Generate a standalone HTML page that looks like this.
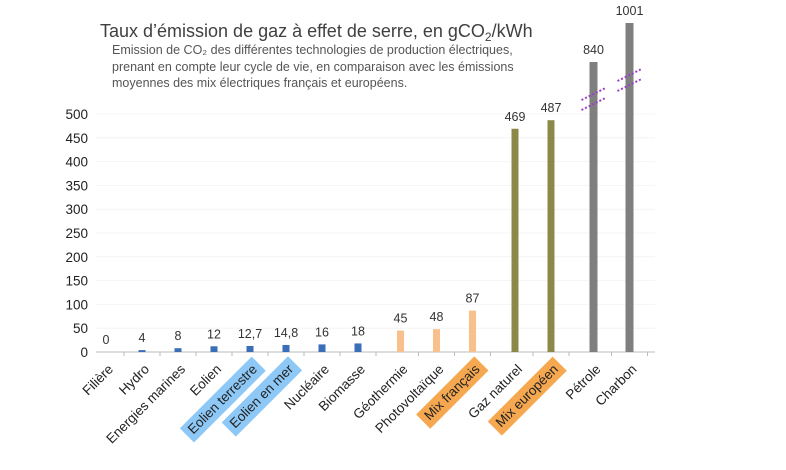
<!DOCTYPE html>
<html><head><meta charset="utf-8"><style>
body{margin:0;background:#fff;width:786px;height:465px;overflow:hidden}
svg{font-family:"Liberation Sans",sans-serif}
</style></head><body>
<svg id="c" width="786" height="465">
<text x="100" y="37" font-size="18" fill="#404040">Taux d’émission de gaz à effet de serre, en gCO<tspan font-size="12" dy="4">2</tspan><tspan dy="-4">/kWh</tspan></text>
<g font-size="12.5" fill="#555">
<text x="112" y="54">Emission de CO₂ des différentes technologies de production électriques,</text>
<text x="112" y="71">prenant en compte leur cycle de vie, en comparaison avec les émissions</text>
<text x="112" y="87">moyennes des mix électriques français et européens.</text>
</g>
</svg>
<script>
const categories=["Filière","Hydro","Energies marines","Eolien","Eolien terrestre","Eolien en mer","Nucléaire","Biomasse","Géothermie","Photovoltaïque","Mix français","Gaz naturel","Mix européen","Pétrole","Charbon"];
const values=[0,4,8,12,12.7,14.8,16,18,45,48,87,469,487,840,1001];
const valueLabels=["0","4","8","12","12,7","14,8","16","18","45","48","87","469","487","840","1001"];
const groups=[0,0,0,0,0,0,0,0,1,1,1,2,2,3,3];
const highlights=[null,null,null,null,"#8ec8f6","#8ec8f6",null,null,null,null,"#f6a850",null,"#f6a850",null,null];
const yTicks=[0,50,100,150,200,250,300,350,400,450,500];
const colors=["#3a6fb8","#f9bf8d","#8b8848","#7f7f7f"];
const ns="http://www.w3.org/2000/svg",svg=document.getElementById('c');
function mk(t,a,p){const e=document.createElementNS(ns,t);for(const k in a)e.setAttribute(k,a[k]);(p||svg).appendChild(e);return e;}
const y0=352,y500=114;
function y(v){if(v<=500)return y0-(v/500)*(y0-y500);return 62-(v-840)*0.2422;}
function x(i){return 106+i*36+groups[i]*6.5;}
yTicks.forEach(t=>{
 const l=mk('line',{x1:96,x2:655,y1:y(t),y2:y(t),stroke:'#f4f4f4'});
 
 const tx=mk('text',{x:88,y:y(t)+5,'text-anchor':'end','font-size':13.5,fill:'#222'});tx.textContent=t;
 
});
const ax=mk('line',{x1:96,x2:655,y1:y0,y2:y0,stroke:'#bbb'});

categories.forEach((c,i)=>{
 const cx=x(i);
 const tk=mk('line',{x1:cx+18,x2:cx+18,y1:y0,y2:y0+4,stroke:'#bbb'});
 
 if(values[i]>0){
  const w=groups[i]==3?8:7;
  const b=mk('rect',{x:cx-w/2,y:y(values[i]),width:w,height:y0-y(values[i]),fill:colors[groups[i]]});
  
 }
 const vl=mk('text',{x:cx,y:(values[i]>0?y(values[i]):y0)-8,'text-anchor':'middle','font-size':12.5,fill:'#333'});vl.textContent=valueLabels[i];
 
 const g=mk('g',{transform:`translate(${cx+8},${y0+18}) rotate(-45)`});
 const t=mk('text',{x:0,y:0,'text-anchor':'end','font-size':13.5,fill:'#222'},g);t.textContent=c;
 
 if(highlights[i]){const bb=t.getBBox();const r=mk('rect',{x:bb.x-5,y:bb.y-2,width:bb.width+10,height:bb.height+5,fill:highlights[i]},g);g.insertBefore(r,t);
  }
});
[13,14].forEach(i=>{const cx=x(i),yb=y(values[i])+(i==13?32:52);
 [0,10].forEach(d=>{const l=mk('line',{x1:cx-12,y1:yb+d+6,x2:cx+12,y2:yb+d-6,stroke:'#9b3fc9','stroke-width':2,'stroke-dasharray':'2,2'});
 });});
</script>
</body></html>
